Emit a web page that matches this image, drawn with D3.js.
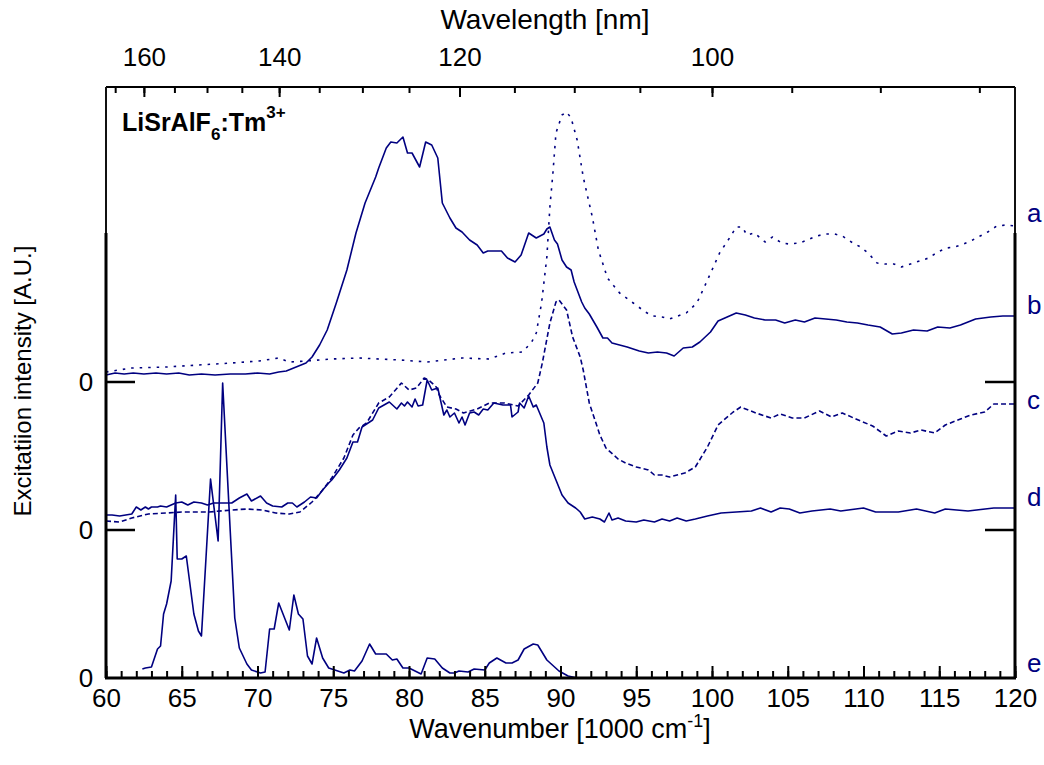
<!DOCTYPE html>
<html>
<head>
<meta charset="utf-8">
<script src="https://cdn.jsdelivr.net/npm/d3@7"></script>
<style>
body { margin: 0; background: #fff; }
text { font-family: "Liberation Sans", Arial, sans-serif; }
</style>
</head>
<body>
<div id="chart"></div>
<script>
// ***** Data (wavenumber in 1000 cm-1, intensity in A.U. above each trace's own zero) *****
var seriesA = [[60.0,10],[61.7,14],[64.0,15],[66.1,17],[68.3,19],[70.1,21],[71.4,24],[72.1,20],[73.2,21],[74.9,23],[76.7,24],[79.4,22],[81.2,20],[83.5,24],[85.3,23],[86.4,29],[87.5,30],[88.1,40],[88.4,49],[88.75,79],[89.1,125],[89.3,175],[89.5,209],[89.7,249],[90.1,267],[90.4,270],[90.7,264],[91.1,242],[91.5,205],[92.1,165],[92.5,132],[93.1,104],[93.9,89],[94.8,79],[95.6,70],[96.1,66],[96.7,65],[97.2,63],[98.3,69],[99.0,79],[99.4,92],[100.0,112],[100.5,129],[101.2,145],[101.6,155],[102.0,155],[102.3,147],[102.8,149],[103.5,140],[104.0,145],[104.6,139],[105.1,138],[105.8,139],[106.3,142],[106.9,146],[107.5,148],[108.1,148],[108.6,146],[109.2,140],[109.8,135],[110.3,129],[110.9,119],[111.4,118],[112.0,118],[112.5,115],[113.1,118],[113.7,121],[114.3,124],[114.9,130],[115.5,134],[116.0,135],[116.6,138],[117.2,142],[117.7,146],[118.2,150],[118.8,156],[119.4,157],[120.0,156]];

var seriesB = [[60.0,7],[60.6,9],[61.2,8],[61.8,9],[62.5,8],[63.3,9],[64.0,8],[64.8,9],[65.5,7],[66.3,8],[67.2,7],[68.2,8],[69.2,8],[70.0,9],[70.8,8],[71.4,10],[71.9,11],[73.2,19],[73.6,25],[74.1,37],[74.6,52],[75.2,79],[75.9,112],[76.5,149],[77.1,179],[77.8,205],[78.0,214],[78.5,234],[78.8,240],[79.2,239],[79.6,245],[79.9,229],[80.2,229],[80.7,215],[81.1,240],[81.5,237],[81.9,224],[82.2,179],[82.7,164],[83.1,154],[83.5,150],[84.0,142],[84.5,137],[84.9,129],[85.2,131],[86.1,131],[86.5,124],[87.0,120],[87.4,127],[87.9,149],[88.4,144],[88.9,148],[89.1,153],[89.3,155],[89.6,142],[89.8,138],[90.1,122],[90.4,115],[90.7,112],[90.9,100],[91.4,80],[91.6,74],[91.9,68],[92.4,55],[92.8,44],[93.1,44],[93.4,39],[93.9,37],[94.4,35],[94.8,33],[95.2,31],[95.8,29],[96.4,30],[97.0,29],[97.5,26],[98.1,34],[98.7,35],[99.2,40],[99.9,50],[100.4,61],[101.0,65],[101.6,69],[102.2,67],[102.8,64],[103.5,62],[104.2,62],[104.8,59],[105.5,62],[106.1,60],[106.8,64],[107.5,63],[108.2,62],[108.9,60],[109.6,59],[110.3,57],[111.1,55],[111.9,48],[112.5,49],[113.3,52],[114.2,51],[114.9,55],[115.7,54],[116.4,57],[117.4,63],[118.4,65],[119.2,66],[120.0,66]];

var seriesC = [[60.0,9],[60.9,8],[61.7,12],[62.8,16],[64.0,17],[65.0,18],[66.8,18],[68.3,20],[69.3,21],[70.3,20],[71.2,17],[72.1,16],[72.8,18],[73.6,28],[74.3,40],[74.9,52],[75.7,72],[76.3,95],[76.7,102],[77.2,107],[78.0,127],[78.7,133],[79.5,147],[80.0,140],[80.5,142],[81.0,152],[81.3,150],[81.8,143],[82.0,135],[82.5,123],[83.1,121],[83.6,117],[84.5,121],[85.3,127],[86.3,127],[87.2,124],[87.9,135],[88.5,147],[88.8,167],[89.3,207],[89.7,228],[89.9,230],[90.4,220],[90.8,193],[91.3,173],[91.5,160],[91.9,127],[92.6,95],[93.0,82],[93.8,71],[94.3,67],[95.0,63],[95.8,60],[96.2,55],[96.7,55],[97.2,53],[98.2,57],[98.9,63],[99.7,83],[100.4,105],[101.4,118],[101.9,123],[102.9,117],[103.9,112],[104.5,116],[105.3,112],[106.1,112],[107.1,119],[107.9,113],[108.6,117],[109.5,111],[110.6,104],[111.5,94],[112.3,99],[113.1,97],[113.8,100],[114.7,97],[115.4,105],[116.4,111],[117.1,115],[118.0,118],[118.6,126],[120.0,126]];

var seriesD = [[60.0,15],[60.4,15],[60.9,14],[61.7,16],[62.0,23],[62.3,20],[62.6,23],[62.8,21],[63.0,23],[63.4,23],[63.6,24],[64.0,23],[64.6,27],[65.0,28],[65.4,25],[65.8,28],[66.3,27],[66.7,25],[67.1,27],[68.3,27],[68.8,32],[69.3,36],[69.6,29],[70.2,34],[70.6,27],[71.0,24],[71.6,23],[72.0,27],[72.3,27],[72.6,23],[73.1,28],[73.5,33],[73.9,32],[74.3,40],[74.7,47],[74.9,50],[75.4,60],[75.9,72],[76.3,88],[76.6,88],[76.9,103],[77.6,110],[78.0,122],[78.7,128],[79.2,121],[79.5,127],[79.7,124],[79.9,128],[80.2,123],[80.4,131],[80.6,124],[80.9,125],[81.2,150],[81.5,140],[81.9,142],[82.3,115],[82.5,120],[82.7,113],[83.0,117],[83.3,107],[83.5,113],[83.7,105],[84.0,117],[84.3,118],[84.6,115],[84.9,121],[85.2,120],[85.6,127],[86.2,125],[86.7,125],[86.8,113],[87.2,118],[87.3,127],[87.6,122],[87.9,134],[88.2,123],[88.4,125],[88.9,107],[89.1,83],[89.3,65],[89.7,50],[90.1,35],[90.5,27],[91.0,22],[91.3,18],[91.6,11],[92.1,13],[92.6,11],[92.9,8],[93.2,17],[93.4,10],[93.8,12],[94.3,9],[95.0,8],[95.5,10],[96.2,8],[96.7,11],[97.2,9],[97.7,12],[98.3,9],[98.9,11],[99.7,14],[100.6,17],[101.6,18],[102.6,19],[103.2,22],[103.9,18],[104.5,22],[105.1,21],[105.8,17],[106.6,19],[107.8,21],[108.5,19],[110.0,22],[110.8,18],[112.3,18],[113.5,21],[114.7,17],[115.4,21],[116.9,19],[118.6,22],[120.0,22]];

var seriesE = [[62.4,9],[62.6,10],[63.0,11],[63.4,29],[63.6,32],[63.8,64],[64.0,74],[64.3,97],[64.6,183],[64.7,119],[65.0,119],[65.3,122],[65.8,64],[66.1,47],[66.3,42],[66.6,120],[66.9,199],[67.4,137],[67.7,295],[68.2,147],[68.5,60],[68.8,30],[69.3,14],[69.6,8],[70.2,5],[70.5,6],[70.8,49],[71.1,49],[71.4,75],[72.1,48],[72.4,83],[72.7,64],[73.0,59],[73.3,22],[73.6,14],[73.9,40],[74.3,20],[74.7,10],[75.1,8],[75.7,5],[76.1,8],[76.4,7],[76.9,17],[77.4,34],[77.8,24],[78.5,24],[78.9,18],[79.2,19],[79.6,10],[80.0,10],[80.8,4],[81.2,20],[81.7,19],[82.2,10],[82.7,5],[83.0,5],[83.3,7],[83.9,6],[84.3,9],[85.0,8],[85.3,15],[85.8,20],[86.4,15],[86.8,15],[87.2,18],[87.6,29],[88.2,34],[88.5,33],[89.1,18],[89.9,7],[90.5,2],[91.1,0],[100.0,0],[112.0,0]];

// zero level of each stacked trace (A.U.)
var panelZeros = [296, 148, 0];
var traceLetters = ["a", "b", "c", "d", "e"];
var letterLevels = [465, 373, 278, 181, 15];

// tick values
var wavenumberMajor = d3.range(60, 121, 5);
var wavenumberMinor = d3.range(60, 121, 1);
var wavelengthMajor = [160, 140, 120, 100];
var wavelengthMinor = d3.range(85, 166, 5);

// ***** Chart setup *****
var svgWidth = 1044;
var svgHeight = 765;
var plot = {left: 106, right: 1015, top: 87, bottom: 678};
var lineColor = "#000080";
var tickFont = 26;

var svg = d3.select("#chart").append("svg")
    .attr("width", svgWidth)
    .attr("height", svgHeight);

var x = d3.scaleLinear().domain([60, 120]).range([plot.left, plot.right]);
var y = d3.scaleLinear().domain([0, 591]).range([plot.bottom, plot.top]);

function traceLine(offset) {
    return d3.line()
        .x(d => x(d[0]))
        .y(d => y(d[1] + offset));
}

var traces = [
    {data: seriesA, offset: panelZeros[0], dash: "2.5,6"},
    {data: seriesB, offset: panelZeros[0], dash: null},
    {data: seriesC, offset: panelZeros[1], dash: "5,3"},
    {data: seriesD, offset: panelZeros[1], dash: null},
    {data: seriesE, offset: panelZeros[2], dash: null}
];

var traceGroup = svg.append("g");
traces.forEach(function(t) {
    traceGroup.append("path")
        .datum(t.data)
        .attr("fill", "none")
        .attr("stroke", lineColor)
        .attr("stroke-width", 1.6)
        .attr("stroke-linejoin", "round")
        .attr("stroke-dasharray", t.dash)
        .attr("d", traceLine(t.offset));
});

// ***** Axes *****
// bottom: wavenumber, ticks pointing inward
var bottomMinor = d3.axisBottom(x).tickValues(wavenumberMinor).tickSize(-7).tickFormat("");
var bottomMajor = d3.axisBottom(x).tickValues(wavenumberMajor).tickSize(-12).tickPadding(11);

svg.append("g").attr("transform", `translate(0, ${plot.bottom})`).call(bottomMinor);
svg.append("g").attr("transform", `translate(0, ${plot.bottom})`).call(bottomMajor);

// top: wavelength in nm (1e4 / wavenumber)
var topMinor = d3.axisTop(x).tickValues(wavelengthMinor.map(l => 1e4 / l)).tickSize(-6).tickFormat("");
var topMajor = d3.axisTop(x).tickValues(wavelengthMajor.map(l => 1e4 / l)).tickSize(-10).tickPadding(21)
    .tickFormat(d => Math.round(1e4 / d));

svg.append("g").attr("transform", `translate(0, ${plot.top})`).call(topMinor);
svg.append("g").attr("transform", `translate(0, ${plot.top})`).call(topMajor);

svg.selectAll(".domain").remove();
svg.selectAll(".tick line").attr("stroke", "#000").attr("stroke-width", 2);
svg.selectAll(".tick text")
    .attr("font-size", tickFont)
    .attr("font-family", "Liberation Sans, Arial, sans-serif")
    .attr("fill", "#000");

// frame
var frame = svg.append("g").attr("stroke", "#000").attr("fill", "none");
frame.append("line").attr("x1", plot.left).attr("x2", plot.right).attr("y1", plot.top).attr("y2", plot.top).attr("stroke-width", 2);
frame.append("line").attr("x1", plot.left - 1).attr("x2", plot.right + 1).attr("y1", plot.bottom).attr("y2", plot.bottom).attr("stroke-width", 3);
[plot.left, plot.right].forEach(function(xx) {
    frame.append("line").attr("x1", xx).attr("x2", xx).attr("y1", plot.top).attr("y2", y(445))
        .attr("stroke-width", 2).attr("stroke", "#111");
    frame.append("line").attr("x1", xx).attr("x2", xx).attr("y1", y(445)).attr("y2", plot.bottom)
        .attr("stroke-width", 3);
});

// zero markers of the stacked traces
panelZeros.forEach(function(z) {
    if (z > 0) {
        frame.append("line").attr("x1", plot.left).attr("x2", plot.left + 29)
            .attr("y1", y(z)).attr("y2", y(z)).attr("stroke-width", 2.5);
        frame.append("line").attr("x1", plot.right - 30).attr("x2", plot.right)
            .attr("y1", y(z)).attr("y2", y(z)).attr("stroke-width", 2.5);
    }
    svg.append("text")
        .attr("x", 86)
        .attr("y", y(z))
        .attr("dy", "0.36em")
        .attr("text-anchor", "middle")
        .attr("font-size", tickFont)
        .text("0");
});

// trace letters
svg.selectAll(".letter")
    .data(traceLetters)
    .enter()
    .append("text")
    .attr("x", 1027)
    .attr("y", (d, i) => y(letterLevels[i]))
    .attr("dy", "0.36em")
    .attr("font-size", 26)
    .attr("fill", lineColor)
    .text(d => d);

// ***** Titles *****
var xTitle = svg.append("text")
    .attr("x", 560)
    .attr("y", 738)
    .attr("text-anchor", "middle")
    .attr("font-size", 27);
xTitle.append("tspan").text("Wavenumber [1000 cm");
xTitle.append("tspan").attr("dy", -11).attr("font-size", 18).text("-1");
xTitle.append("tspan").attr("dy", 11).text("]");

svg.append("text")
    .attr("x", 545)
    .attr("y", 29)
    .attr("text-anchor", "middle")
    .attr("font-size", 28)
    .text("Wavelength [nm]");

svg.append("text")
    .attr("transform", "translate(31, 381) rotate(-90)")
    .attr("text-anchor", "middle")
    .attr("font-size", 24)
    .text("Excitatiion intensity [A.U.]");

// sample label
var sample = svg.append("text")
    .attr("x", 122)
    .attr("y", 131)
    .attr("font-size", 25)
    .attr("font-weight", "bold");
sample.append("tspan").text("LiSrAlF");
sample.append("tspan").attr("dy", 9).attr("font-size", 17).text("6");
sample.append("tspan").attr("dy", -9).text(":Tm");
sample.append("tspan").attr("dy", -13).attr("font-size", 17).text("3+");
</script>
</body>
</html>
